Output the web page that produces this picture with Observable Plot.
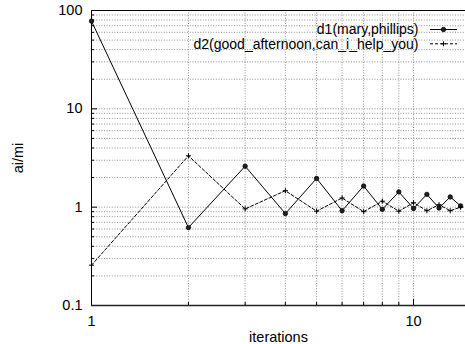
<!DOCTYPE html>
<html><head><meta charset="utf-8">
<script src="https://cdn.jsdelivr.net/npm/d3@7"></script>
<script src="https://cdn.jsdelivr.net/npm/@observablehq/plot@0.6"></script>
<style>body{margin:0;background:#fff}</style>
</head><body><div id="chart"></div>
<script>
const iterations = [1,2,3,4,5,6,7,8,9,10,11,12,13,14];
const d1 = [78, 0.62, 2.61, 0.86, 1.96, 0.92, 1.64, 0.95, 1.43, 0.97, 1.35, 0.98, 1.27, 1.03];
const d2 = [0.257, 3.33, 0.96, 1.47, 0.91, 1.24, 0.90, 1.15, 0.91, 1.11, 0.92, 1.06, 0.92, 1.0];
const seriesNames = ["d1(mary,phillips)", "d2(good_afternoon,can_i_help_you)"];
const yMajor = [0.1, 1, 10, 100];
const yMinor = [0.2,0.3,0.4,0.5,0.6,0.7,0.8,0.9,2,3,4,5,6,7,8,9,20,30,40,50,60,70,80,90];
const xMajor = [1, 10];
const xMinor = [2,3,4,5,6,7,8,9];

const rows1 = iterations.map((x,i)=>({x, y:d1[i]}));
const rows2 = iterations.map((x,i)=>({x, y:d2[i]}));
const gridY = yMinor.concat([1,10]);
const gridX = xMinor.concat([10]);
const font = "'Liberation Sans', Arial, Helvetica, sans-serif";

const W = 465, H = 344, mL = 91, mT = 10, mB = 39, mR = 0;
const plot = Plot.plot({
  width: W, height: H,
  marginLeft: mL, marginTop: mT, marginBottom: mB, marginRight: mR,
  style: {fontFamily: font, fontSize: "14px", background: "#fff", color: "#000"},
  x: {type: "log", domain: [1, 14.5]},
  y: {type: "log", domain: [0.1, 100]},
  marks: [
    Plot.gridY(gridY, {stroke: "#777", strokeOpacity: 0.8, strokeDasharray: "1,1.6"}),
    Plot.gridX(gridX, {stroke: "#777", strokeOpacity: 0.8, strokeDasharray: "1,1.6"}),
    Plot.axisY(yMajor, {tickSize: 0, tickPadding: 9, tickFormat: d => String(d), label: "ai/mi", labelAnchor: "center", labelArrow: "none", labelOffset: 79, fontSize: "14.5px"}),
    Plot.axisY(yMajor, {tickSize: -6, tickFormat: () => "", label: null}),
    Plot.axisY(yMinor, {tickSize: -3, tickFormat: () => "", label: null}),
    Plot.axisX(xMajor, {tickSize: 0, tickPadding: 10, tickFormat: d => String(d), label: "iterations", labelAnchor: "center", labelArrow: "none", labelOffset: 36, fontSize: "14.5px"}),
    Plot.axisX(xMajor, {tickSize: -6, tickFormat: () => "", label: null}),
    Plot.axisX(xMinor, {tickSize: -3, tickFormat: () => "", label: null}),
    Plot.ruleX([1], {stroke: "#000", strokeWidth: 1}),
    Plot.ruleY([100], {stroke: "#000", strokeWidth: 1}),
    Plot.ruleY([0.1], {stroke: "#222", strokeWidth: 1.6}),
    Plot.line(rows1, {x: "x", y: "y", stroke: "#000", strokeWidth: 1}),
    Plot.dot(rows1, {x: "x", y: "y", r: 2.2, fill: "#222", stroke: "#000", strokeWidth: 0.8}),
    Plot.line(rows2, {x: "x", y: "y", stroke: "#000", strokeWidth: 1, strokeDasharray: "3,2"}),
    Plot.dot(rows2, {x: "x", y: "y", symbol: "plus", r: 1.8, stroke: "#000", strokeWidth: 1}),
    Plot.text([seriesNames[0]], {text: d => d, frameAnchor: "top-right", textAnchor: "end", lineAnchor: "middle", dx: -47, dy: 19, fill: "#000", fontSize: "14px"}),
    Plot.text([seriesNames[1]], {text: d => d, frameAnchor: "top-right", textAnchor: "end", lineAnchor: "middle", dx: -47, dy: 34.5, fill: "#000", fontSize: "14px"})
  ]
});
document.getElementById("chart").appendChild(plot);

// legend samples
const svg = d3.select(plot);
const legend = [
  {y: mT + 19.5, dash: null, sym: "circle"},
  {y: mT + 33.8, dash: "3,2", sym: "plus"}
];
const lx1 = W - 35, lx2 = W - 8, lxm = (lx1 + lx2) / 2;
legend.forEach(l => {
  svg.append("line").attr("x1", lx1).attr("x2", lx2).attr("y1", l.y).attr("y2", l.y)
    .attr("stroke", "#000").attr("stroke-width", 1).attr("stroke-dasharray", l.dash);
  if (l.sym === "circle") {
    svg.append("circle").attr("cx", lxm).attr("cy", l.y).attr("r", 2.2).attr("fill", "#222").attr("stroke", "#000").attr("stroke-width", 0.8);
  } else {
    svg.append("path").attr("d", `M${lxm-2.5},${l.y}h5M${lxm},${l.y-2.5}v5`).attr("stroke", "#000").attr("stroke-width", 1);
  }
});
</script>
</body></html>
